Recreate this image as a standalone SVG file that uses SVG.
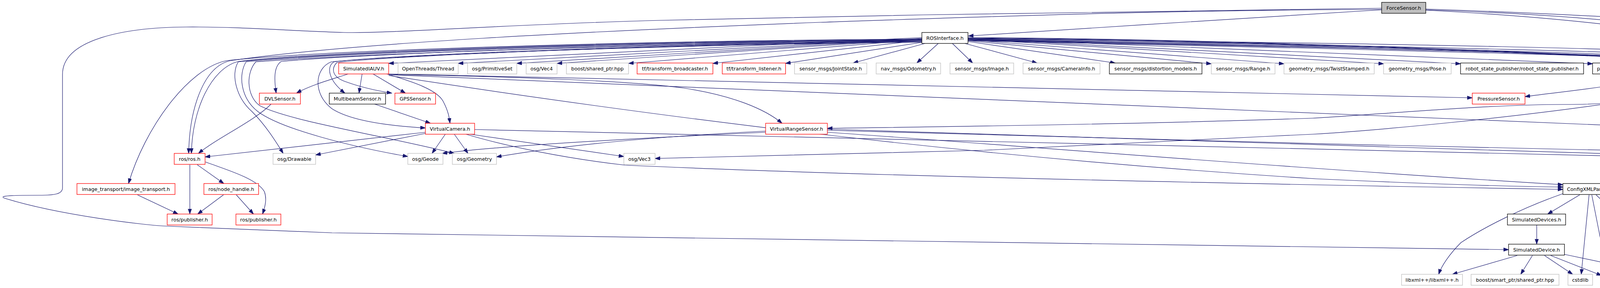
<svg xmlns="http://www.w3.org/2000/svg" width="5064" height="736" viewBox="0 0 5064 736">
<style>
.e{fill:none;stroke:#191970;stroke-width:1.2;marker-end:url(#ah)}
rect{fill:#fff;stroke-width:1.3}
.red rect{stroke:#ff0000}
.blk rect{stroke:#000}
.gry rect{stroke:#bfbfbf}
.cur rect{fill:#bfbfbf;stroke:#000}
text{font-family:"DejaVu Sans",sans-serif;font-size:12.7px;text-anchor:middle;fill:#000}
</style>
<defs>
<marker id="ah" markerWidth="14" markerHeight="10" refX="13" refY="4.5" orient="auto" markerUnits="userSpaceOnUse"><path d="M0,0 L13,4.5 L0,9 Z" fill="#191970" stroke="#191970" stroke-width="1"/></marker>
</defs>
<rect x="0" y="0" width="5064" height="736" style="fill:#fff;stroke:none"/>
<g id="edges">
<path class="e" d="M3537,25 C3300,38 2800,72 2479,92"/>
<path class="e" d="M3537,21 C3100,24 2300,38 1690,52 C1300,62 1000,86 880,83 C760,80 620,68 477,69 C320,70 160,100 160,190 L160,480 C160,496 140,499 100,499 C50,499 -5,499 10,506 C150,550 380,577 430,578 C600,585 800,594 850,595 L3862,638"/>
<path class="e" d="M3537,24 C3000,26 2600,40 2100,57 C1500,80 900,110 590,155 C520,170 485,280 483,392"/>
<path class="e" d="M3650,23 C4100,38 4500,65 4813,86"/>
<path class="e" d="M3650,25 C4250,45 4560,100 4620,170 C4660,220 4668,270 4671,315"/>
<path class="e" d="M3650,26 C4300,60 4640,140 4690,210 C4740,290 4750,350 4720,390 C4660,450 4300,466 4141,474"/>
<path class="e" d="M2360,96 L995,162"/>
<path class="e" d="M2360,98 L1173,162"/>
<path class="e" d="M2360,99 L1323,162"/>
<path class="e" d="M2360,100 L1426,162"/>
<path class="e" d="M2360,101 L1609,162"/>
<path class="e" d="M2360,103 L1825,162"/>
<path class="e" d="M2362,108 L2011,162"/>
<path class="e" d="M2368,111 L2184,161"/>
<path class="e" d="M2402,111 L2347,161"/>
<path class="e" d="M2438,111 L2490,161"/>
<path class="e" d="M2470,111 L2655,161"/>
<path class="e" d="M2478,106 L2855,161"/>
<path class="e" d="M2478,104 L3101,163"/>
<path class="e" d="M2478,102 L3287,163"/>
<path class="e" d="M2478,100 L3542,163"/>
<path class="e" d="M2478,99 L3739,163"/>
<path class="e" d="M2478,98 L4077,163"/>
<path class="e" d="M2360,100 C1600,104 800,130 580,155 C480,175 370,330 329,469"/>
<path class="e" d="M2360,101 C1600,105 820,132 610,157 C540,175 492,280 490,392"/>
<path class="e" d="M2360,102 C1600,107 840,134 610,158 C590,190 605,250 645,285 C680,320 705,360 725,392"/>
<path class="e" d="M2360,104 C1600,110 900,140 720,157 C700,170 702,205 707,238"/>
<path class="e" d="M2360,103 C1600,108 860,136 630,158 C610,190 615,250 660,285 C720,330 900,375 1044,400"/>
<path class="e" d="M2360,105 C1600,112 880,140 655,158 C630,185 630,245 665,270 C740,310 1000,350 1163,392"/>
<path class="e" d="M2360,106 C1700,112 1000,140 855,158 C835,170 840,205 883,238"/>
<path class="e" d="M2360,107 C1700,113 1000,142 862,160 C848,175 850,195 880,207 C920,222 965,232 1003,238"/>
<path class="e" d="M2360,108 C1700,114 1000,142 848,158 C805,175 800,240 850,278 C900,310 1000,322 1089,327"/>
<path class="e" d="M2478,96 C3200,100 4100,140 4230,150 C4260,160 4255,195 4210,205 C4100,225 3950,240 3904,247"/>
<path class="e" d="M2478,97 C3200,102 4100,140 4230,152 C4290,165 4280,230 4200,250 C4150,262 4100,267 4000,267 C3800,267 3500,295 3360,302 C3000,315 2500,323 2118,328"/>
<path class="e" d="M2478,98 C3200,104 4100,142 4240,152 C4310,165 4290,235 4200,252 C3900,300 3500,335 3360,343 C3000,360 2600,380 2520,384 L1677,405"/>
<path class="e" d="M2478,99 C3500,110 4400,125 4590,150 C4700,170 4790,240 4806,300 C4815,360 4800,430 4760,450 C4720,465 4660,472 4617,477"/>
<path class="e" d="M2478,100 C3500,115 4400,135 4586,157 C4620,170 4640,220 4660,315"/>
<path class="e" d="M2478,101 C3500,118 4350,140 4435,157 C4455,170 4455,200 4440,238"/>
<path class="e" d="M2478,102 C3500,120 4300,145 4385,158 C4400,170 4395,200 4365,237 C4350,265 4343,290 4340,315"/>
<path class="e" d="M2478,103 C3500,122 4380,145 4460,158 C4500,180 4510,250 4490,300 C4470,340 4450,365 4442,392"/>
<path class="e" d="M2478,104 C3500,125 4420,150 4497,160 C4540,200 4560,250 4570,300 C4575,340 4575,370 4575,392"/>
<path class="e" d="M891,189 C860,200 800,215 759,238"/>
<path class="e" d="M927,189 L919,238"/>
<path class="e" d="M955,189 L1038,238"/>
<path class="e" d="M990,189 C1060,210 1120,230 1135,260 C1148,285 1150,300 1152,315"/>
<path class="e" d="M995,189 L3769,250"/>
<path class="e" d="M995,190 C1300,196 1600,205 1750,225 C1880,245 1960,280 2002,315"/>
<path class="e" d="M995,191 L4284,327"/>
<path class="e" d="M995,193 C1400,255 2300,390 3370,457 C3700,472 3900,477 4001,478"/>
<path class="e" d="M959,266 L1102,315"/>
<path class="e" d="M694,266 C650,310 560,350 508,392"/>
<path class="e" d="M1089,338 L525,401"/>
<path class="e" d="M1089,341 L808,396"/>
<path class="e" d="M1140,343 L1106,392"/>
<path class="e" d="M1163,343 L1198,392"/>
<path class="e" d="M1204,343 L1597,400"/>
<path class="e" d="M1193,343 C1300,375 1450,405 1600,422 C2200,450 3300,472 4001,484"/>
<path class="e" d="M1215,331 L4360,404"/>
<path class="e" d="M1960,338 C1700,350 1300,370 1132,392"/>
<path class="e" d="M1960,335 C1700,348 1450,370 1271,401"/>
<path class="e" d="M2118,333 C2800,350 3800,382 4520,393"/>
<path class="e" d="M2118,330 C2800,345 3600,380 4360,400"/>
<path class="e" d="M2118,338 C2500,364 3300,430 4001,472"/>
<path class="e" d="M4428,266 L4428,392"/>
<path class="e" d="M4354,343 L4407,392"/>
<path class="e" d="M4310,343 L4097,469"/>
<path class="e" d="M4330,343 C4328,450 4322,600 4322,701"/>
<path class="e" d="M4625,343 L4478,392"/>
<path class="e" d="M4652,343 L4597,392"/>
<path class="e" d="M4668,343 L4668,560 C4668,620 4500,675 4363,705"/>
<path class="e" d="M4576,421 L4582,469"/>
<path class="e" d="M4561,421 L4337,701"/>
<path class="e" d="M4520,420 C4400,450 4250,468 4141,481"/>
<path class="e" d="M4044,498 L3962,547"/>
<path class="e" d="M4001,495 C3900,530 3800,580 3740,620 C3710,650 3690,680 3683,701"/>
<path class="e" d="M4068,498 L4048,701"/>
<path class="e" d="M4075,498 L4115,701"/>
<path class="e" d="M4101,498 L4200,547"/>
<path class="e" d="M4086,498 L4300,701"/>
<path class="e" d="M3934,575 L3934,624"/>
<path class="e" d="M3884,653 L3718,701"/>
<path class="e" d="M3923,653 L3893,701"/>
<path class="e" d="M3954,653 L4026,701"/>
<path class="e" d="M3970,653 L4100,704"/>
<path class="e" d="M4005,650 L4284,709"/>
<path class="e" d="M486,421 L486,547"/>
<path class="e" d="M505,421 L573,469"/>
<path class="e" d="M526,414 C600,440 660,460 677,490 C684,510 678,530 672,547"/>
<path class="e" d="M352,498 L456,547"/>
<path class="e" d="M572,498 L506,547"/>
<path class="e" d="M605,498 L649,547"/>
</g>
<g id="n0" class="cur"><rect x="3537" y="6" width="113" height="28"/><text x="3593.5" y="24.5">ForceSensor.h</text></g>
<g id="n1" class="blk"><rect x="2360" y="83" width="118" height="28"/><text x="2419" y="101.5">ROSInterface.h</text></g>
<g id="n2" class="red"><rect x="867" y="161" width="128" height="28"/><text x="931" y="179.5">SimulatedIAUV.h</text></g>
<g id="n3" class="gry"><rect x="1019" y="161" width="154" height="28"/><text x="1096" y="179.5">OpenThreads/Thread</text></g>
<g id="n4" class="gry"><rect x="1197" y="161" width="126" height="28"/><text x="1260" y="179.5">osg/PrimitiveSet</text></g>
<g id="n5" class="gry"><rect x="1347" y="161" width="79" height="28"/><text x="1386.5" y="179.5">osg/Vec4</text></g>
<g id="n6" class="gry"><rect x="1450" y="161" width="159" height="28"/><text x="1529.5" y="179.5">boost/shared_ptr.hpp</text></g>
<g id="n7" class="red"><rect x="1631" y="161" width="194" height="28"/><text x="1728" y="179.5">tf/transform_broadcaster.h</text></g>
<g id="n8" class="red"><rect x="1849" y="161" width="162" height="28"/><text x="1930" y="179.5">tf/transform_listener.h</text></g>
<g id="n9" class="gry"><rect x="2034" y="161" width="185" height="28"/><text x="2126.5" y="179.5">sensor_msgs/JointState.h</text></g>
<g id="n10" class="gry"><rect x="2243" y="161" width="165" height="28"/><text x="2325.5" y="179.5">nav_msgs/Odometry.h</text></g>
<g id="n11" class="gry"><rect x="2432" y="161" width="163" height="28"/><text x="2513.5" y="179.5">sensor_msgs/Image.h</text></g>
<g id="n12" class="gry"><rect x="2619" y="161" width="197" height="28"/><text x="2717.5" y="179.5">sensor_msgs/CameraInfo.h</text></g>
<g id="n13" class="blk"><rect x="2840" y="161" width="237" height="28"/><text x="2958.5" y="179.5">sensor_msgs/distortion_models.h</text></g>
<g id="n14" class="gry"><rect x="3101" y="161" width="163" height="28"/><text x="3182.5" y="179.5">sensor_msgs/Range.h</text></g>
<g id="n15" class="gry"><rect x="3287" y="161" width="231" height="28"/><text x="3402.5" y="179.5">geometry_msgs/TwistStamped.h</text></g>
<g id="n16" class="gry"><rect x="3542" y="161" width="173" height="28"/><text x="3628.5" y="179.5">geometry_msgs/Pose.h</text></g>
<g id="n17" class="blk"><rect x="3739" y="161" width="315" height="28"/><text x="3896.5" y="179.5">robot_state_publisher/robot_state_publisher.h</text></g>
<g id="n18" class="blk"><rect x="4077" y="161" width="156" height="28"/><text x="4155" y="179.5">pcl_ros/point_cloud.h</text></g>
<g id="n19" class="gry"><rect x="4813" y="83" width="246" height="28"/><text x="4936" y="101.5">geometry_msgs/WrenchStamped.h</text></g>
<g id="n20" class="red"><rect x="664" y="238" width="105" height="28"/><text x="716.5" y="256.5">DVLSensor.h</text></g>
<g id="n21" class="blk"><rect x="843" y="238" width="144" height="28"/><text x="915" y="256.5">MultibeamSensor.h</text></g>
<g id="n22" class="red"><rect x="1011" y="238" width="104" height="28"/><text x="1063" y="256.5">GPSSensor.h</text></g>
<g id="n23" class="red"><rect x="3769" y="238" width="135" height="28"/><text x="3836.5" y="256.5">PressureSensor.h</text></g>
<g id="n24" class="red"><rect x="4371" y="238" width="114" height="28"/><text x="4428" y="256.5">HUDCamera.h</text></g>
<g id="n25" class="red"><rect x="1089" y="315" width="126" height="28"/><text x="1152" y="333.5">VirtualCamera.h</text></g>
<g id="n26" class="red"><rect x="1960" y="315" width="158" height="28"/><text x="2039" y="333.5">VirtualRangeSensor.h</text></g>
<g id="n27" class="red"><rect x="4284" y="315" width="105" height="28"/><text x="4336.5" y="333.5">URDFRobot.h</text></g>
<g id="n28" class="red"><rect x="4611" y="315" width="117" height="28"/><text x="4669.5" y="333.5">BulletPhysics.h</text></g>
<g id="n29" class="red"><rect x="446" y="392" width="79" height="28"/><text x="485.5" y="410.5">ros/ros.h</text></g>
<g id="n30" class="gry"><rect x="699" y="392" width="109" height="28"/><text x="753.5" y="410.5">osg/Drawable</text></g>
<g id="n31" class="gry"><rect x="1044" y="392" width="90" height="28"/><text x="1089" y="410.5">osg/Geode</text></g>
<g id="n32" class="gry"><rect x="1158" y="392" width="113" height="28"/><text x="1214.5" y="410.5">osg/Geometry</text></g>
<g id="n33" class="gry"><rect x="1597" y="392" width="80" height="28"/><text x="1637" y="410.5">osg/Vec3</text></g>
<g id="n34" class="gry"><rect x="4360" y="392" width="136" height="28"/><text x="4428" y="410.5">SimulatorConfig.h</text></g>
<g id="n35" class="red"><rect x="4520" y="392" width="108" height="28"/><text x="4574" y="410.5">UWSimUtils.h</text></g>
<g id="n36" class="red"><rect x="197" y="469" width="251" height="28"/><text x="322.5" y="487.5">image_transport/image_transport.h</text></g>
<g id="n37" class="red"><rect x="522" y="469" width="140" height="28"/><text x="592" y="487.5">ros/node_handle.h</text></g>
<g id="n38" class="blk"><rect x="4001" y="469" width="139" height="28"/><text x="4070.5" y="487.5">ConfigXMLParser.h</text></g>
<g id="n39" class="gry"><rect x="4554" y="469" width="63" height="28"/><text x="4585.5" y="487.5">vector</text></g>
<g id="n40" class="red"><rect x="428" y="547" width="115" height="28"/><text x="485.5" y="565.5">ros/publisher.h</text></g>
<g id="n41" class="red"><rect x="604" y="547" width="115" height="28"/><text x="661.5" y="565.5">ros/publisher.h</text></g>
<g id="n42" class="blk"><rect x="3859" y="547" width="149" height="28"/><text x="3933.5" y="565.5">SimulatedDevices.h</text></g>
<g id="n43" class="blk"><rect x="4183" y="547" width="103" height="28"/><text x="4234.5" y="565.5">urdf/model.h</text></g>
<g id="n44" class="blk"><rect x="3862" y="624" width="143" height="28"/><text x="3933.5" y="642.5">SimulatedDevice.h</text></g>
<g id="n45" class="gry"><rect x="3588" y="701" width="156" height="28"/><text x="3666" y="719.5">libxml++/libxml++.h</text></g>
<g id="n46" class="gry"><rect x="3766" y="701" width="225" height="28"/><text x="3878.5" y="719.5">boost/smart_ptr/shared_ptr.hpp</text></g>
<g id="n47" class="gry"><rect x="4014" y="701" width="63" height="28"/><text x="4045.5" y="719.5">cstdlib</text></g>
<g id="n48" class="gry"><rect x="4100" y="701" width="40" height="28"/><text x="4120" y="719.5">list</text></g>
<g id="n49" class="gry"><rect x="4284" y="701" width="79" height="28"/><text x="4323.5" y="719.5">iostream</text></g>
</svg>
